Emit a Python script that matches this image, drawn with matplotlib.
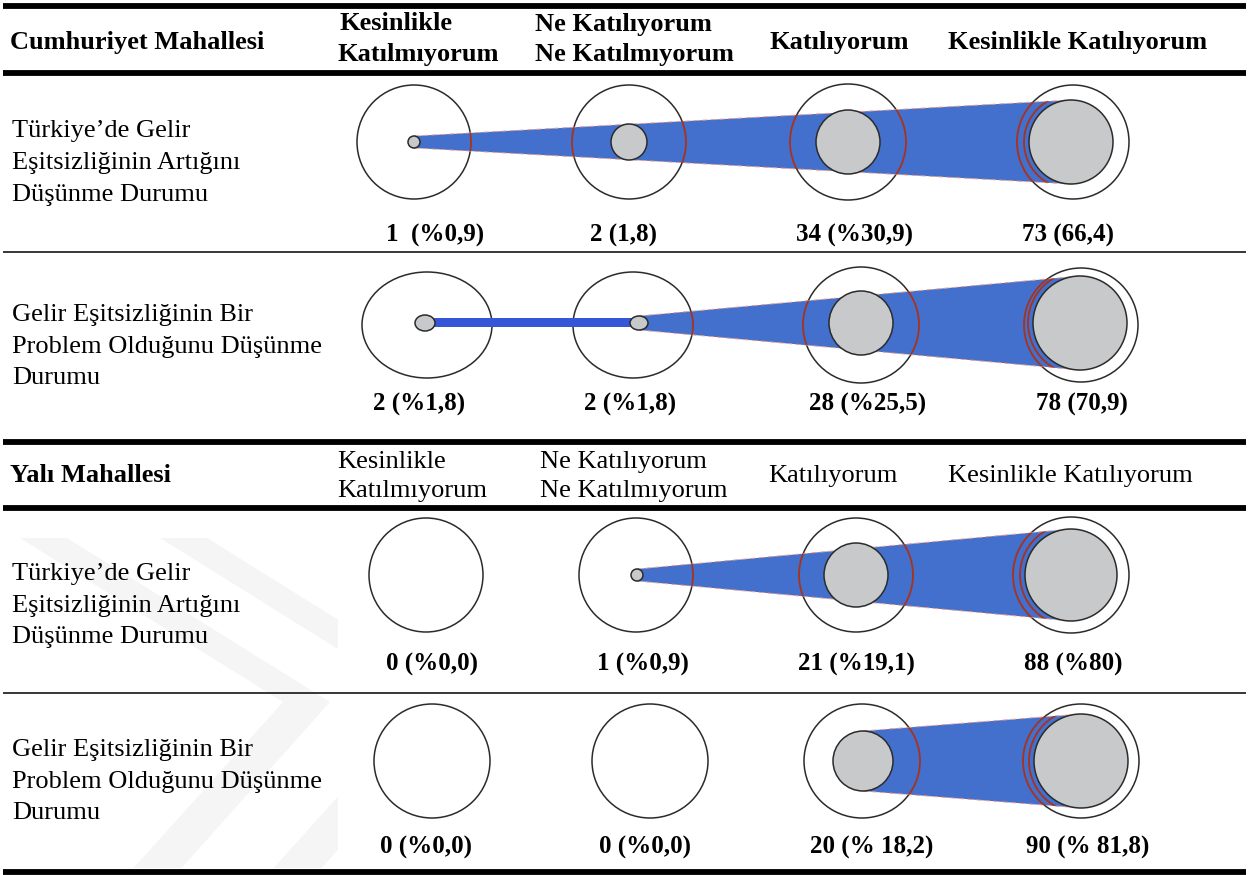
import matplotlib
matplotlib.use("Agg")
import matplotlib.pyplot as plt
from matplotlib.patches import Ellipse, Polygon, Rectangle

# ---------------- data ----------------
sections = ["Cumhuriyet Mahallesi", "Yalı Mahallesi"]
responses = [["Kesinlikle", "Katılmıyorum"],
             ["Ne Katılıyorum", "Ne Katılmıyorum"],
             ["Katılıyorum"],
             ["Kesinlikle Katılıyorum"]]
statement_artis = ["Türkiye’de Gelir", "Eşitsizliğinin Artığını", "Düşünme Durumu"]
statement_problem = ["Gelir Eşitsizliğinin Bir", "Problem Olduğunu Düşünme", "Durumu"]

cumhuriyet_artis_n = [1, 2, 34, 73]
cumhuriyet_problem_n = [2, 2, 28, 78]
yali_artis_n = [0, 1, 21, 88]
yali_problem_n = [0, 0, 20, 90]

cumhuriyet_artis_lbl = ["1  (%0,9)", "2 (1,8)", "34 (%30,9)", "73 (66,4)"]
cumhuriyet_problem_lbl = ["2 (%1,8)", "2 (%1,8)", "28 (%25,5)", "78 (70,9)"]
yali_artis_lbl = ["0 (%0,0)", "1 (%0,9)", "21 (%19,1)", "88 (%80)"]
yali_problem_lbl = ["0 (%0,0)", "0 (%0,0)", "20 (% 18,2)", "90 (% 81,8)"]

# bubble radii as drawn in the picture (pixels)
cumhuriyet_artis_r = [6, 18, 32, 42]
cumhuriyet_problem_r = [10, 9, 32, 47]
yali_artis_r = [0, 6, 32, 46]
yali_problem_r = [0, 0, 30, 47]

# ---------------- layout ----------------
W, H = 1252, 875
BLUE = "#4270CC"
BAR = "#3656D8"
GRAY = "#C8C9CB"
RED = "#A8321C"
EDGE = "#2b2b2b"
WM = "#f5f5f5"
SERIF = ["Liberation Serif", "DejaVu Serif"]

fig = plt.figure(figsize=(W / 100, H / 100), dpi=100)
ax = fig.add_axes([0, 0, 1, 1])
ax.set_xlim(0, W)
ax.set_ylim(H, 0)
ax.axis("off")

# faint background watermark (chevrons) in the lower section
clip = Rectangle((0, 512), 338, 356, transform=ax.transData)
for dx in (0, 140):
    pts = [(20 + dx, 538), (67 + dx, 538), (330 + dx, 702), (178 + dx, 872),
           (130 + dx, 872), (283 + dx, 702)]
    p = Polygon(pts, closed=True, fc=WM, ec="none", zorder=0)
    ax.add_patch(p)
    p.set_clip_path(clip)

rows = [
    dict(n=cumhuriyet_artis_n, lbl=cumhuriyet_artis_lbl, r=cumhuriyet_artis_r,
         text=statement_artis, ty=[131, 163, 195],
         cy=142, ocx=[414, 629, 848, 1073], ow=[57, 57, 58, 56], oh=[57, 57, 58, 57],
         icx=[414, 629, 848, 1071], icy=142, iasp=[1, 1, 1, 1],
         lx=[435, 624, 855, 1068], ly=235, bar=False),
    dict(n=cumhuriyet_problem_n, lbl=cumhuriyet_problem_lbl, r=cumhuriyet_problem_r,
         text=statement_problem, ty=[315, 347, 378],
         cy=325, ocx=[427, 633, 861, 1081], ow=[65, 60, 58, 57], oh=[53, 53, 58, 57],
         icx=[425, 639, 861, 1080], icy=323, iasp=[0.8, 0.78, 1, 1],
         lx=[419, 630, 868, 1082], ly=404, bar=True),
    dict(n=yali_artis_n, lbl=yali_artis_lbl, r=yali_artis_r,
         text=statement_artis, ty=[574, 606, 637],
         cy=575, ocx=[426, 636, 856, 1071], ow=[57, 57, 57, 58], oh=[57, 57, 57, 58],
         icx=[426, 637, 856, 1071], icy=575, iasp=[1, 1, 1, 1],
         lx=[432, 643, 856, 1073], ly=664, bar=False),
    dict(n=yali_problem_n, lbl=yali_problem_lbl, r=yali_problem_r,
         text=statement_problem, ty=[750, 782, 813],
         cy=761, ocx=[432, 650, 862, 1081], ow=[58, 58, 58, 58], oh=[57, 57, 57, 57],
         icx=[432, 650, 863, 1081], icy=761, iasp=[1, 1, 1, 1],
         lx=[426, 645, 872, 1088], ly=847, bar=False),
]

# horizontal rules
for y in [5.5, 72.5, 442, 508, 872]:
    ax.plot([3, 1246], [y, y], color="black", lw=4.2, solid_capstyle="butt", zorder=6)
for y in [252, 693]:
    ax.plot([3, 1246], [y, y], color="black", lw=1.1, solid_capstyle="butt", zorder=6)

# headers
head_y = [(24, 55, 43), (462, 491, 476)]
for si, sec in enumerate(sections):
    y1, y2, ym = head_y[si]
    bold = "bold" if si == 0 else "normal"
    ax.text(10, ym, sec, fontsize=19, fontweight="bold", family=SERIF, va="center", ha="left")
    hx = [[340, 338], [535, 535], [770], [948]] if si == 0 else [[337, 337], [540, 540], [768], [948]]
    for ci, lines in enumerate(responses):
        if len(lines) == 2:
            ax.text(hx[ci][0], y1, lines[0], fontsize=19, fontweight=bold, family=SERIF, va="center")
            ax.text(hx[ci][1], y2, lines[1], fontsize=19, fontweight=bold, family=SERIF, va="center")
        else:
            ax.text(hx[ci][0], ym, lines[0], fontsize=19, fontweight=bold, family=SERIF, va="center")

for row in rows:
    # statement text
    for t, y in zip(row["text"], row["ty"]):
        ax.text(12, y, t, fontsize=19, family=SERIF, va="center", ha="left")

    # outer circles
    for cx, w, h in zip(row["ocx"], row["ow"], row["oh"]):
        ax.add_patch(Ellipse((cx, row["cy"]), 2 * w, 2 * h, fill=False, ec=EDGE, lw=1.1, zorder=1))

    # funnel: from first non-zero bubble after the bar to the last bubble
    r = row["r"]
    nz = [i for i, v in enumerate(row["n"]) if v > 0]
    start = nz[1] if row["bar"] else nz[0]
    end = nz[-1]
    x0, x1 = row["icx"][start], row["icx"][end]
    h0 = r[start] * row["iasp"][start]
    h1 = r[end] * row["iasp"][end]
    cy = row["icy"]
    wedge = Polygon([(x0, cy - h0), (x1, cy - h1), (x1, cy + h1), (x0, cy + h0)],
                    closed=True, fc=BLUE, ec="none", zorder=2)
    ax.add_patch(wedge)
    ax.plot([x0, x1], [cy - h0, cy - h1], color="#F09A86", lw=0.7, dashes=(5, 4), zorder=2.5)
    ax.plot([x0, x1], [cy + h0, cy + h1], color="#F09A86", lw=0.7, dashes=(5, 4), zorder=2.5)

    if row["bar"]:
        bx0, bx1 = row["icx"][nz[0]], row["icx"][nz[1]]
        ax.add_patch(Rectangle((bx0, cy - 5), bx1 - bx0, 9, fc=BAR, ec="none", zorder=2))

    # red outlines of circles where they cross the funnel
    for cx, w, h in zip(row["ocx"], row["ow"], row["oh"]):
        e = Ellipse((cx, row["cy"]), 2 * w, 2 * h, fill=False, ec=RED, lw=1.3, zorder=3)
        ax.add_patch(e)
        e.set_clip_path(wedge)
    ring = Ellipse((row["icx"][end], cy), 2 * (r[end] + 5), 2 * (r[end] + 5),
                   fill=False, ec=RED, lw=1.3, zorder=3)
    ax.add_patch(ring)
    ring.set_clip_path(wedge)

    # inner bubbles
    for i, (cx, rv) in enumerate(zip(row["icx"], r)):
        if row["n"][i] > 0 and rv > 0:
            ax.add_patch(Ellipse((cx, cy), 2 * rv, 2 * rv * row["iasp"][i],
                                 fc=GRAY, ec=EDGE, lw=1.1, zorder=4))

    # value labels
    for x, s in zip(row["lx"], row["lbl"]):
        ax.text(x, row["ly"], s, fontsize=18, fontweight="bold", family=SERIF,
                ha="center", va="center", zorder=5)

fig.savefig("out.png", dpi=100)
